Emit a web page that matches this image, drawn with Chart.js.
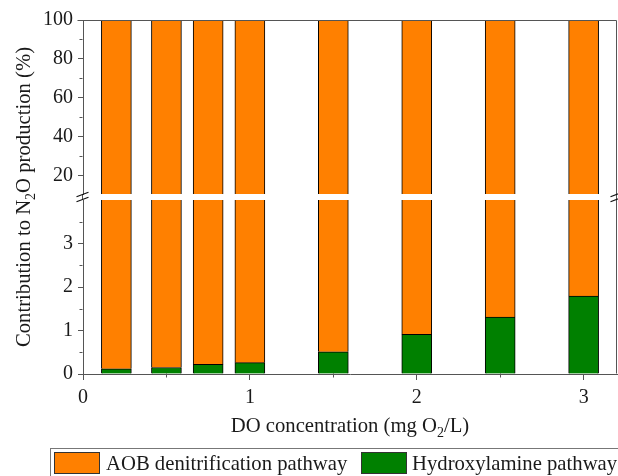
<!DOCTYPE html>
<html><head><meta charset="utf-8">
<style>html,body{margin:0;padding:0;background:#fff;} #wrap{width:618px;height:476px;}</style>
<script src="https://cdn.jsdelivr.net/npm/chart.js@4.4.1/dist/chart.umd.min.js"></script>
</head><body>
<div id="wrap"><canvas id="c" width="618" height="476"></canvas></div>
<script>
// ---- data ----
const doConcentration = [0.2, 0.5, 0.75, 1.0, 1.5, 2.0, 2.5, 3.0];
const hydroxylaminePathway = [0.12, 0.15, 0.22, 0.26, 0.51, 0.91, 1.31, 1.79];
const aobDenitrificationPathway = [99.88, 99.85, 99.78, 99.74, 99.49, 99.09, 98.69, 98.21];
const seriesLabels = ['AOB denitrification pathway', 'Hydroxylamine pathway'];
const xTickValues = [0, 1, 2, 3];
const xMinorTicks = [0.5, 1.5, 2.5];
const yLowTickValues = [0, 1, 2, 3];
const yLowMinorTicks = [0.5, 1.5, 2.5, 3.5];
const yHighTickValues = [20, 40, 60, 80, 100];
const yHighMinorTicks = [30, 50, 70, 90];
const xRange = [0, 3.2];
const yLowRange = [0, 4];
const yHighRange = [10.4, 100];

// ---- style ----
const FONT = 'Liberation Serif';
const FS = 20;
const FST = 20.7;
const AXIS = '#555555';
const TEXT = '#1a1a1a';
const ORANGE = '#FF8000';
const GREEN = '#008000';

const totals = doConcentration.map((_, i) => hydroxylaminePathway[i] + aobDenitrificationPathway[i]);

const greenLow = {
  label: seriesLabels[1], yAxisID: 'yLow',
  data: doConcentration.map((x, i) => ({x, y: [yLowRange[0], hydroxylaminePathway[i]]})),
  backgroundColor: GREEN, borderColor: '#000',
  borderWidth: {left: 1, right: 1, top: 1, bottom: 0}, borderSkipped: false
};
const orangeLow = {
  label: seriesLabels[0], yAxisID: 'yLow',
  data: doConcentration.map((x, i) => ({x, y: [hydroxylaminePathway[i], Math.min(totals[i], yLowRange[1])]})),
  backgroundColor: ORANGE, borderColor: '#000',
  borderWidth: {left: 1, right: 1, top: 0, bottom: 0}, borderSkipped: false
};
const orangeHigh = {
  label: seriesLabels[0], yAxisID: 'yHigh',
  data: doConcentration.map((x, i) => ({x, y: [yHighRange[0], totals[i]]})),
  backgroundColor: ORANGE, borderColor: '#000',
  borderWidth: {left: 1, right: 1, top: 0, bottom: 0}, borderSkipped: false
};

function setTicks(values) { return s => { s.ticks = values.map(v => ({value: v})); }; }

function yAxis(range, ticks, weightStack, order) {
  return {
    type: 'linear', position: 'left', stack: 'y', stackWeight: weightStack, weight: order,
    min: range[0], max: range[1],
    afterBuildTicks: setTicks(ticks),
    afterFit: s => { s.width = 83; },
    grid: {display: true, drawOnChartArea: false, drawTicks: true, tickLength: 5, color: AXIS, tickColor: AXIS},
    border: {display: true, color: AXIS, width: 1},
    ticks: {font: {family: FONT, size: FS}, color: TEXT, padding: 5}
  };
}

function drawRich(ctx, parts, cx, baseY) {
  const sub = Math.round(FST * 0.7);
  let total = 0;
  parts.forEach(p => { ctx.font = (p.sub ? sub : FST) + 'px "' + FONT + '"'; p.w = ctx.measureText(p.t).width; total += p.w; });
  let x = cx - total / 2;
  ctx.textAlign = 'left'; ctx.textBaseline = 'alphabetic';
  parts.forEach(p => {
    ctx.font = (p.sub ? sub : FST) + 'px "' + FONT + '"';
    ctx.fillText(p.t, x, baseY + (p.sub ? 5 : 0));
    x += p.w;
  });
}

const extras = {
  id: 'extras',
  afterDraw(chart) {
    const ctx = chart.ctx, ca = chart.chartArea;
    const {x, yLow, yHigh} = chart.scales;
    ctx.save();
    ctx.strokeStyle = AXIS; ctx.lineWidth = 1;
    const L = Math.round(ca.left) - 0.5, R = Math.round(ca.right) - 0.5;
    const T = Math.round(ca.top) + 0.5, B = Math.round(ca.bottom) - 0.5;
    ctx.beginPath();
    ctx.moveTo(L - 5, T); ctx.lineTo(R, T); // top frame
    ctx.moveTo(R, T); ctx.lineTo(R, B);       // right frame
    ctx.moveTo(L, yHigh.bottom); ctx.lineTo(L, yLow.top); // axis through gap
    yLowMinorTicks.forEach(v => { const y = Math.round(yLow.getPixelForValue(v)) + 0.5; ctx.moveTo(L - 3, y); ctx.lineTo(L, y); });
    yHighMinorTicks.forEach(v => { const y = Math.round(yHigh.getPixelForValue(v)) + 0.5; ctx.moveTo(L - 3, y); ctx.lineTo(L, y); });
    xMinorTicks.forEach(v => { const xx = Math.round(x.getPixelForValue(v)) + 0.5; ctx.moveTo(xx, B); ctx.lineTo(xx, B + 4); });
    ctx.stroke();

    // break marks
    const gy = (yHigh.bottom + yLow.top) / 2;
    ctx.strokeStyle = '#111'; ctx.lineWidth = 1.2;
    [L, R].forEach(cx => {
      ctx.beginPath();
      [-2.5, 2.5].forEach(d => { ctx.moveTo(cx - 6, gy + d + 2.2); ctx.lineTo(cx + 6, gy + d - 2.2); });
      ctx.stroke();
    });

    // axis titles
    ctx.fillStyle = TEXT;
    drawRich(ctx, [{t: 'DO concentration (mg O'}, {t: '2', sub: true}, {t: '/L)'}], (ca.left + ca.right) / 2, 432);
    ctx.save();
    ctx.translate(30, (ca.top + ca.bottom) / 2);
    ctx.rotate(-Math.PI / 2);
    drawRich(ctx, [{t: 'Contribution to N'}, {t: '2', sub: true}, {t: 'O production (%)'}], 0, 0);
    ctx.restore();

    // legend
    ctx.strokeStyle = '#777'; ctx.lineWidth = 1;
    ctx.strokeRect(50.5, 448.5, 700, 60);
    const items = [{c: ORANGE, sx: 54, tx: 106, label: seriesLabels[0]}, {c: GREEN, sx: 361, tx: 412, label: seriesLabels[1]}];
    items.forEach(it => {
      ctx.fillStyle = it.c; ctx.fillRect(it.sx, 452, 46, 22);
      ctx.strokeStyle = '#333'; ctx.strokeRect(it.sx + 0.5, 452.5, 45, 21);
      ctx.fillStyle = TEXT; ctx.font = FST + 'px "' + FONT + '"';
      ctx.textAlign = 'left'; ctx.textBaseline = 'alphabetic';
      ctx.fillText(it.label, it.tx, 469.5);
    });
    ctx.restore();
  }
};

new Chart(document.getElementById('c'), {
  type: 'bar',
  data: {datasets: [greenLow, orangeLow, orangeHigh]},
  options: {
    responsive: false, animation: false, devicePixelRatio: 1,
    layout: {padding: {top: 20, right: 1, left: 0, bottom: 0}},
    datasets: {bar: {barThickness: 30, grouped: false}},
    plugins: {legend: {display: false}, tooltip: {enabled: false}, title: {display: false}},
    scales: {
      x: {
        type: 'linear', position: 'bottom', min: xRange[0], max: xRange[1], offset: false,
        afterBuildTicks: setTicks(xTickValues),
        afterFit: s => { s.height = 102; },
        grid: {display: true, offset: false, drawOnChartArea: false, drawTicks: true, tickLength: 6, color: AXIS, tickColor: AXIS},
        border: {display: true, color: AXIS, width: 1},
        ticks: {font: {family: FONT, size: FS}, color: TEXT, padding: 6, maxRotation: 0, autoSkip: false}
      },
      yLow: yAxis(yLowRange, yLowTickValues, 174, 1),
      yGap: {
        type: 'linear', position: 'left', stack: 'y', stackWeight: 6, weight: 2, min: 0, max: 1,
        afterFit: s => { s.width = 83; },
        ticks: {display: false}, grid: {display: false}, border: {display: false}
      },
      yHigh: yAxis(yHighRange, yHighTickValues, 174, 3)
    }
  },
  plugins: [extras]
});
</script>
</body></html>
